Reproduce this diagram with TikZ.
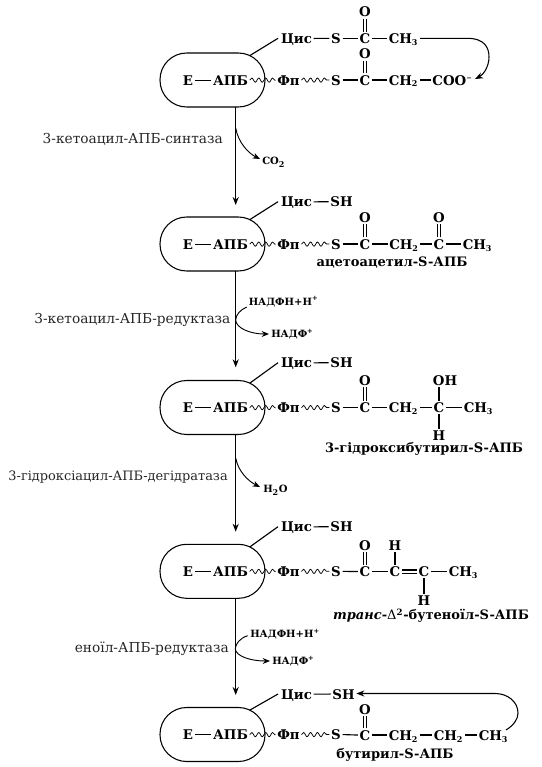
\documentclass[tikz,border=0pt]{standalone}
\usepackage{fontspec}
\setmainfont{DejaVu Serif}
\usetikzlibrary{arrows.meta,decorations.pathmorphing}
\tikzset{
 x=0.75pt,y=-0.75pt,
 apb/.style={draw,line width=0.8pt,rounded corners=20pt,minimum width=78.75pt,minimum height=40.5pt,inner sep=0pt},
 chem/.style={font=\bfseries\fontsize{10}{12}\selectfont,inner sep=1.1pt,anchor=base,text depth=0pt},
 enzyme/.style={font=\fontsize{10.3}{12}\selectfont,inner sep=0pt,anchor=east,text=black!85},
 smalllbl/.style={font=\bfseries\fontsize{7.5}{9}\selectfont,inner sep=0pt,anchor=west},
 cmpd/.style={font=\bfseries\fontsize{9.75}{12}\selectfont,inner sep=0pt},
 bond/.style={line width=0.85pt},
 flow/.style={line width=0.8pt,-{Stealth[length=6pt,width=4.6pt]}},
 side/.style={line width=0.7pt,-{Stealth[length=5.5pt,width=4.4pt]}},
 wavy/.style={line width=0.55pt,decorate,decoration={snake,amplitude=1.6pt,segment length=5.2pt}},
}
\newcommand{\subs}[1]{\textsubscript{\fontsize{6}{6}\selectfont #1}}
\newcommand{\sups}[1]{\textsuperscript{\fontsize{5}{5}\selectfont #1}}
\newcommand{\dbl}[2]{\draw[bond] ([xshift=-1.2pt]#1.north) -- ([xshift=-1.2pt]#2.south);\draw[bond] ([xshift=1.2pt]#1.north) -- ([xshift=1.2pt]#2.south);}
\newcommand{\sng}[2]{\draw[bond] (#1.east) -- (#2.west);}
\newcommand{\core}[3]{%
 \node[apb] (#1box) at (212.5,#2) {};
 \node[chem] (#1E) at (188,#2+5) {Е};
 \node[chem] (#1A) at (230.5,#2+5) {АПБ};
 \node[chem] (#1F) at (288.5,#2+5) {Фп};
 \node[chem] (#1S) at (336,#2+5) {S};
 \node[chem] (#1Cys) at (296.5,#3+5) {Цис};
 \coordinate (#1tie) at (250,#2-24.5);
 \coordinate (#1tip) at (278,#3);
 \draw[bond] (#1E.east) -- (#1A.west);
 \draw[wavy] (#1A.east) -- (#1F.west);
 \draw[wavy] (#1F.east) -- (#1S.west);
 \draw[bond] (#1tie) -- (#1tip);
}
\begin{document}
\begin{tikzpicture}
\useasboundingbox (0,0) rectangle (542,767);
% ---------- Row 1
\core{a}{80}{38.3}
\node[chem] (aS2) at (336,43.3) {S};
\node[chem] (aC2) at (365,43.3) {C};
\node[chem] (aO2) at (365,17) {O};
\node[chem] (aM2) at (403.5,43.3) {CH\subs{3}};
\node[chem] (aC) at (365,85) {C};
\node[chem] (aO) at (365,59) {O};
\node[chem] (aM) at (403.5,85) {CH\subs{2}};
\node[chem] (aCOO) at (452.5,85) {COO\sups{−}};
\sng{aCys}{aS2}\sng{aS2}{aC2}\sng{aC2}{aM2}
\dbl{aC2}{aO2}\dbl{aC}{aO}
\sng{aS}{aC}\sng{aC}{aM}\sng{aM}{aCOO}
\coordinate (aturn) at (420,38.3);
\coordinate (aend) at (475,79);
\draw[flow] (aturn) -- (467,38.3) .. controls (485,38.3) and (489,48) .. (489,57) .. controls (489,67) and (483,75) .. (aend);
% ---------- Row 2
\core{b}{244}{201.7}
\node[chem] (bSH) at (341.5,206.7) {SH};
\node[chem] (bC) at (365,249) {C};
\node[chem] (bO) at (365,222) {O};
\node[chem] (bM) at (404,249) {CH\subs{2}};
\node[chem] (bC2) at (439,249) {C};
\node[chem] (bO2) at (439,222) {O};
\node[chem] (bM2) at (477.5,249) {CH\subs{3}};
\sng{bCys}{bSH}\sng{bS}{bC}\sng{bC}{bM}\sng{bM}{bC2}\sng{bC2}{bM2}
\dbl{bC}{bO}\dbl{bC2}{bO2}
\node[cmpd] (bname) at (392,263) {ацетоацетил-S-АПБ};
% ---------- Row 3
\core{c}{407.5}{362.7}
\node[chem] (cSH) at (341.5,367.7) {SH};
\node[chem] (cC) at (365,412.5) {C};
\node[chem] (cO) at (365,385.7) {O};
\node[chem] (cM) at (403.5,412.5) {CH\subs{2}};
\node[chem] (cC2) at (439,412.5) {C};
\node[chem] (cOH) at (445,385.7) {OH};
\node[chem] (cH) at (439,440) {H};
\node[chem] (cM2) at (478.5,412.5) {CH\subs{3}};
\sng{cCys}{cSH}\sng{cS}{cC}\sng{cC}{cM}\sng{cM}{cC2}\sng{cC2}{cM2}
\dbl{cC}{cO}
\draw[bond] (cC2.north) -- (cC2.north |- cOH.south);
\draw[bond] (cC2.south) -- (cH.north);
\node[cmpd] (cname) at (424,449) {3-гідроксибутирил-S-АПБ};
% ---------- Row 4
\core{d}{571.3}{526.7}
\node[chem] (dSH) at (341.5,531.7) {SH};
\node[chem] (dC) at (365,576.5) {C};
\node[chem] (dO) at (365,550) {O};
\node[chem] (dC2) at (395,576.5) {C};
\node[chem] (dH2) at (395,550) {H};
\node[chem] (dC3) at (424,576.5) {C};
\node[chem] (dH4) at (424,605) {H};
\node[chem] (dM) at (463.5,576.5) {CH\subs{3}};
\sng{dCys}{dSH}\sng{dS}{dC}\sng{dC}{dC2}\sng{dC3}{dM}
\draw[bond] ([yshift=1.2pt]dC2.east) -- ([yshift=1.2pt]dC3.west);
\draw[bond] ([yshift=-1.2pt]dC2.east) -- ([yshift=-1.2pt]dC3.west);
\dbl{dC}{dO}
\draw[bond] (dC2.north) -- (dH2.south);
\draw[bond] (dC3.south) -- (dH4.north);
\node[cmpd] (dname) at (431,615.7) {\textit{транс}-{\mdseries Δ}\textsuperscript{\fontsize{6.5}{6.5}\selectfont 2}-бутеноїл-S-АПБ};
% ---------- Row 5
\core{e}{734.5}{694}
\node[chem] (eSH) at (343.5,699) {SH};
\node[chem] (eC) at (365,740) {C};
\node[chem] (eO) at (365,714) {O};
\node[chem] (eM) at (403.5,740) {CH\subs{2}};
\node[chem] (eM2) at (448.5,740) {CH\subs{2}};
\node[chem] (eM3) at (493.5,740) {CH\subs{3}};
\sng{eCys}{eSH}\sng{eS}{eC}\sng{eC}{eM}\sng{eM}{eM2}\sng{eM2}{eM3}
\dbl{eC}{eO}
\node[cmpd] (ename) at (395,755) {бутирил-S-АПБ};
\coordinate (eturn) at (506,730);
\coordinate (etop) at (495,693.5);
\draw[flow] (eturn) .. controls (514,725) and (518,719) .. (518,713) .. controls (518,702) and (508,693.5) .. (etop) -- (eSH.east |- etop);
% ---------- Main flow
\coordinate (m1) at (235.7,107);\coordinate (m1e) at (235.7,205);
\coordinate (m2) at (235.7,271);\coordinate (m2e) at (235.7,367.3);
\coordinate (m3) at (235.7,434.3);\coordinate (m3e) at (235.7,531.7);
\coordinate (m4) at (235.7,598.3);\coordinate (m4e) at (235.7,695);
\draw[flow] (m1) -- (m1e);
\draw[flow] (m2) -- (m2e);
\draw[flow] (m3) -- (m3e);
\draw[flow] (m4) -- (m4e);
% ---------- Enzymes
\node[enzyme] (e1) at (223,139) {3-кетоацил-АПБ-синтаза};
\node[enzyme] (e2) at (230.7,320) {3-кетоацил-АПБ-редуктаза};
\node[enzyme,font=\fontsize{9.7}{12}\selectfont] (e3) at (228,477) {3-гідроксіацил-АПБ-дегідратаза};
\node[enzyme] (e4) at (229,649) {еноїл-АПБ-редуктаза};
% ---------- Side products
\node[smalllbl] (p1) at (262,162.5) {CO\subs{2}};
\coordinate (t1) at (235.7,128);\coordinate (t1e) at (260,159);
\draw[side] (t1) .. controls (238,142) and (248,153) .. (t1e);
\node[smalllbl] (s2) at (248.5,301.7) {НАДФН+Н\sups{+}};
\node[smalllbl] (p2) at (271,334) {НАДФ\sups{+}};
\coordinate (t2) at (246.7,307);\coordinate (t2e) at (269,334);
\draw[side] (t2) .. controls (240,310) and (235.7,315) .. (235.7,320) .. controls (236,328) and (250,334) .. (t2e);
\node[smalllbl] (p3) at (263,490) {H\subs{2}O};
\coordinate (t3) at (235.7,458);\coordinate (t3e) at (260,487);
\draw[side] (t3) .. controls (238,471) and (248,481) .. (t3e);
\node[smalllbl] (s4) at (250,634.3) {НАДФН+Н\sups{+}};
\node[smalllbl] (p4) at (272,661) {НАДФ\sups{+}};
\coordinate (t4) at (247.7,635.7);\coordinate (t4e) at (270,661);
\draw[side] (t4) .. controls (240,638) and (235.3,644) .. (235.3,649) .. controls (236,656) and (250,661) .. (t4e);
\end{tikzpicture}
\end{document}
